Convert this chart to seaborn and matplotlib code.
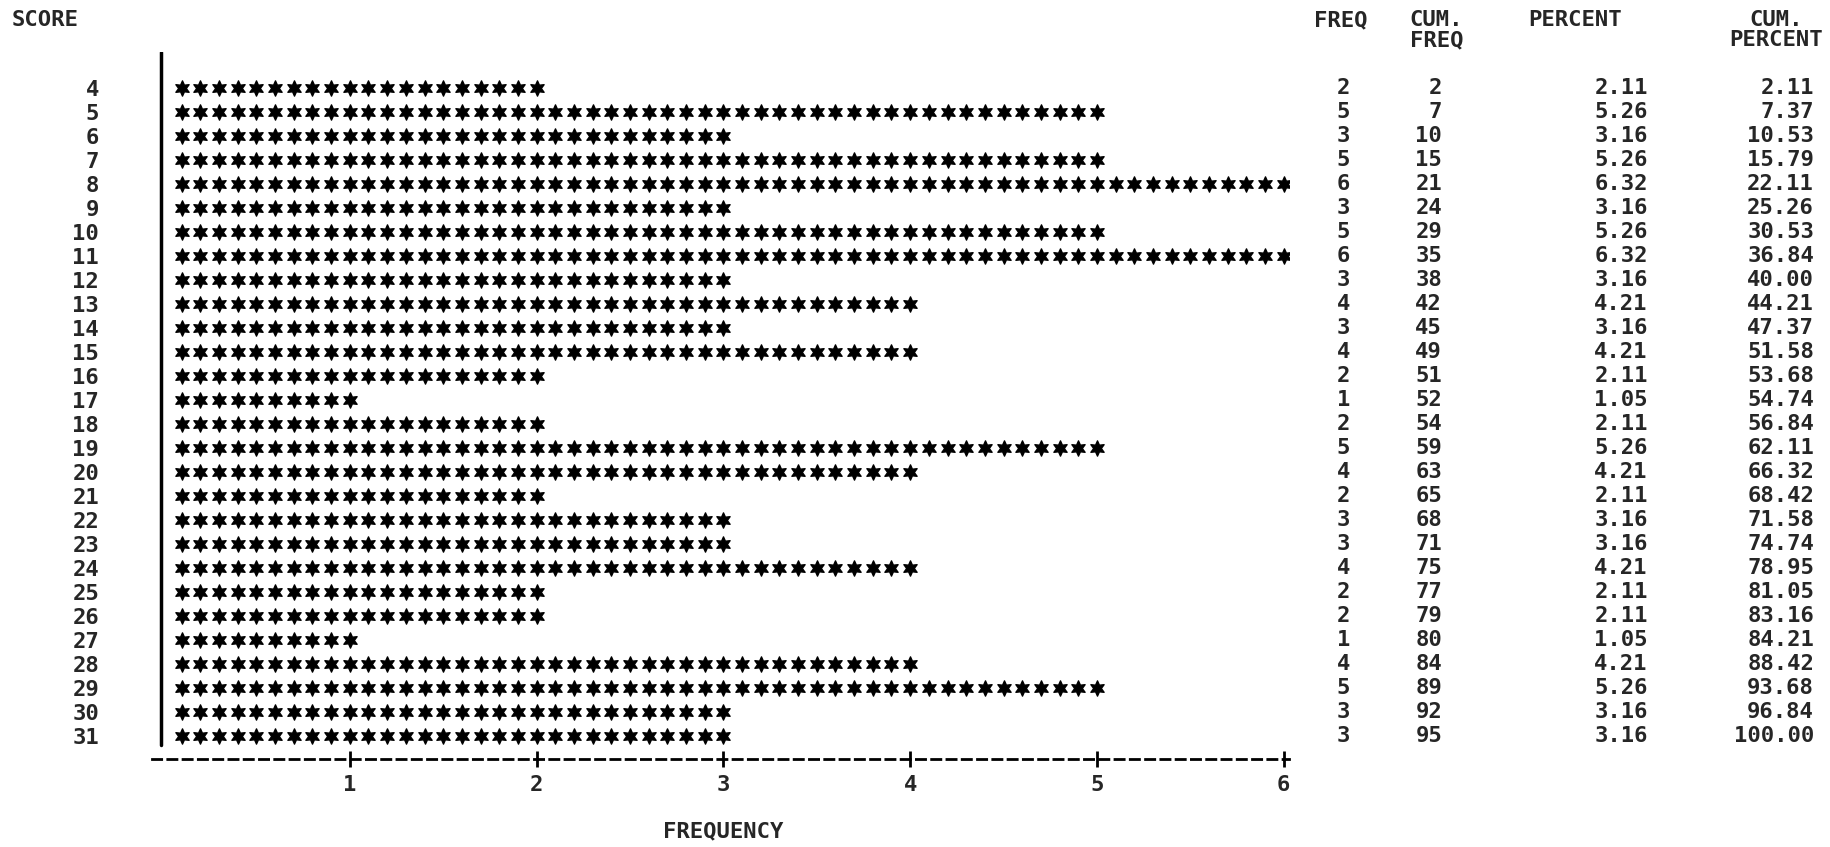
import numpy as np
import pandas as pd
import matplotlib
matplotlib.use('Agg')
import matplotlib.pyplot as plt
import matplotlib.transforms as mtransforms
import seaborn as sns

scores = list(range(4, 32))
freq = [2, 5, 3, 5, 6, 3, 5, 6, 3, 4, 3, 4, 2, 1, 2, 5, 4, 2, 3, 3, 4, 2, 2, 1, 4, 5, 3, 3]
cum_freq = [2, 7, 10, 15, 21, 24, 29, 35, 38, 42, 45, 49, 51, 52, 54, 59, 63, 65, 68, 71,
            75, 77, 79, 80, 84, 89, 92, 95]
percent = ['2.11', '5.26', '3.16', '5.26', '6.32', '3.16', '5.26', '6.32', '3.16', '4.21',
           '3.16', '4.21', '2.11', '1.05', '2.11', '5.26', '4.21', '2.11', '3.16', '3.16',
           '4.21', '2.11', '2.11', '1.05', '4.21', '5.26', '3.16', '3.16']
cum_percent = ['2.11', '7.37', '10.53', '15.79', '22.11', '25.26', '30.53', '36.84', '40.00',
               '44.21', '47.37', '51.58', '53.68', '54.74', '56.84', '62.11', '66.32', '68.42',
               '71.58', '74.74', '78.95', '81.05', '83.16', '84.21', '88.42', '93.68',
               '96.84', '100.00']
freq_ticks = [1, 2, 3, 4, 5, 6]
stars_per_unit = 10

sns.set_style('white')
plt.rcParams['font.family'] = ['DejaVu Sans Mono', 'DejaVu Sans']
plt.rcParams['font.weight'] = 'bold'
fs = 16

# Звёздочки: по 10 на единицу частоты
rows = []
for s, f in zip(scores, freq):
    for k in range(f * stars_per_unit):
        rows.append({'x': (k + 1) / stars_per_unit, 'score': s})
stars = pd.DataFrame(rows)

fig = plt.figure(figsize=(18.3, 8.47), dpi=100)
ax = fig.add_axes([0.08306, 0.1039, 0.6213, 0.8347])

sns.scatterplot(data=stars, x='x', y='score', marker=(6, 1, 0), s=120,
                color='black', edgecolor='black', linewidth=1.0, ax=ax, legend=False)

ax.set_xlim(-0.059, 6.028)
ax.set_ylim(31.96, 2.52)
ax.axvline(-0.01, ymin=0.02, ymax=1.0, color='black', lw=2.5)

for side in ['top', 'right', 'left']:
    ax.spines[side].set_visible(False)
ax.spines['bottom'].set_linestyle((0, (3.3, 2.2)))
ax.spines['bottom'].set_linewidth(2)
ax.spines['bottom'].set_color('black')

ax.set_xticks(freq_ticks)
ax.set_xticklabels([str(t) for t in freq_ticks], fontsize=fs, fontweight='bold')
ax.tick_params(axis='x', bottom=True, direction='inout', length=11, width=2,
               color='black', pad=6)
ax.set_yticks(scores)
ax.set_yticklabels([str(s) for s in scores], fontsize=fs, fontweight='bold')
ax.tick_params(axis='y', left=False, length=0, pad=38)
ax.set_xlabel('')
ax.set_ylabel('')

fig.text(0.395, 0.018, 'FREQUENCY', ha='center', va='center', fontsize=fs, fontweight='bold')
fig.text(0.0066, 0.976, 'SCORE', ha='left', va='center', fontsize=fs, fontweight='bold')

# Таблица справа
tr = mtransforms.blended_transform_factory(fig.transFigure, ax.transData)
for s, f, cf, p, cp in zip(scores, freq, cum_freq, percent, cum_percent):
    ax.text(0.7377, s, str(f), transform=tr, ha='right', va='center', fontsize=fs, fontweight='bold')
    ax.text(0.788, s, str(cf), transform=tr, ha='right', va='center', fontsize=fs, fontweight='bold')
    ax.text(0.9005, s, p, transform=tr, ha='right', va='center', fontsize=fs, fontweight='bold')
    ax.text(0.9913, s, cp, transform=tr, ha='right', va='center', fontsize=fs, fontweight='bold')

fig.text(0.747, 0.976, 'FREQ', ha='right', va='center', fontsize=fs, fontweight='bold')
fig.text(0.785, 0.988, 'CUM.\nFREQ', ha='center', va='top', fontsize=fs, fontweight='bold',
         linespacing=1.0, multialignment='center')
fig.text(0.8606, 0.976, 'PERCENT', ha='center', va='center', fontsize=fs, fontweight='bold')
fig.text(0.9706, 0.988, 'CUM.\nPERCENT', ha='center', va='top', fontsize=fs, fontweight='bold',
         linespacing=1.0, multialignment='center')

fig.savefig('out.png', dpi=100, facecolor='white')
